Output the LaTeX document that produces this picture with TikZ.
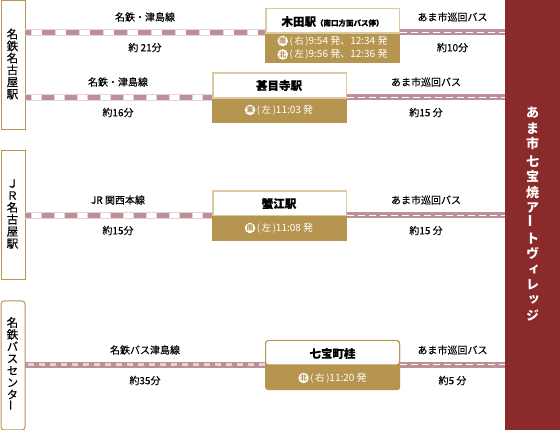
\documentclass[tikz,border=0pt]{standalone}
\usepackage{fontspec}
\setmainfont{Noto Sans CJK JP}
\newfontfamily\medfont[FakeBold=0.25]{Noto Sans CJK JP}
\newfontfamily\vertfont[RawFeature={+vert}]{Noto Sans CJK JP}
\newfontfamily\medvertfont[RawFeature={+vert},FakeBold=0.25]{Noto Sans CJK JP}
\definecolor{gold}{HTML}{B5954F}
\definecolor{palegold}{HTML}{DCC9A0}
\definecolor{wine}{HTML}{8A2A2B}
\definecolor{rosy}{HTML}{BD9097}
\definecolor{palerosy}{HTML}{E6D3D5}
\newcommand{\stationlabel}[1]{{\fontsize{11.5}{13}\selectfont\bfseries #1}}
\newcommand{\busmark}[1]{\tikz[baseline=-3.2pt]\node[circle,fill=white,inner sep=0pt,minimum size=10.5pt,text=gold,font=\fontsize{7}{7}\selectfont\bfseries]{#1};}
\newcommand{\paren}[1]{{\fontsize{9.5}{9}\selectfont\,(\,#1\,)}}

\begin{document}
\begin{tikzpicture}[x=1pt,y=-1pt,
    every node/.style={font=\fontsize{10}{11}\selectfont\medfont,inner sep=0pt},
    origin/.style={draw=gold,line width=1pt,fill=white,minimum width=24pt,text width=24pt,align=center},
    stack/.style={align=center,font=\fontsize{11.5}{12}\selectfont\medfont},
    departure/.style={text=white,font=\fontsize{10}{11}\selectfont},
    railbase/.style={palerosy,line width=6.5pt},
    darkA/.style={rosy,line width=5pt,dash pattern=on 13pt off 11pt,dash phase=7pt},
    whiteA/.style={white,line width=5pt,dash pattern=on 10pt off 14pt,dash phase=17pt},
    darkB/.style={rosy,line width=5pt,dash pattern=on 12pt off 11pt,dash phase=6pt},
    whiteB/.style={white,line width=5pt,dash pattern=on 9pt off 14pt,dash phase=16pt},
    busbase/.style={rosy,line width=6pt},
    busgap/.style={white,line width=1pt,dash pattern=on 7pt off 4pt},
    coachgap/.style={palerosy,line width=3pt,dash pattern=on 6pt off 5pt}]
  \useasboundingbox (0,0) rectangle (560,430);
  % destination
  \node[fill=wine,minimum width=55pt,minimum height=430pt,anchor=north west] (village) at (505,0) {};
  \node[text=white,align=center,font=\fontsize{13}{15.4}\selectfont\bfseries] (villagetext) at (532.5,214) {あ\\ま\\市\\[2.5pt]七\\宝\\焼\\{\vertfont\bfseries ア}\\{\rotatebox{90}{ー}}\\ト\\{\vertfont\bfseries ヴ}\\{\vertfont\bfseries ィ}\\{\vertfont\bfseries レ}\\{\vertfont\bfseries ッ}\\{\vertfont\bfseries ジ}};
  % origins
  \node[origin,minimum height=129pt,anchor=north west] (meitetsuA) at (0.5,0.5) {};
  \node[origin,minimum height=129pt,anchor=north west] (jr) at (0.5,150.5) {};
  \node[origin,rounded corners=3pt,minimum height=129pt,anchor=north west] (bus) at (0.5,300.5) {};
  \node[stack] (meitetsuAtext) at (12.5,64) {名\\鉄\\名\\古\\屋\\駅};
  \node[stack] (jrtext) at (12.5,214) {Ｊ\\Ｒ\\名\\古\\屋\\駅};
  \node[stack] (bustext) at (12.5,364) {名\\鉄\\{\medvertfont バ}\\{\medvertfont ス}\\{\medvertfont セ}\\{\medvertfont ン}\\{\medvertfont タ}\\{\rotatebox{90}{ー}}};
  % stations
  \node[fill=gold,minimum width=135pt,minimum height=55pt,anchor=north west] (kidabox) at (265,8) {};
  \node[fill=gold,minimum width=135pt,minimum height=50pt,anchor=north west] (jimokujibox) at (212,72.5) {};
  \node[fill=gold,minimum width=135pt,minimum height=50pt,anchor=north west] (kaniebox) at (212,190.5) {};
  \node[fill=gold,rounded corners=3pt,minimum width=135pt,minimum height=50pt,anchor=north west] (shippobox) at (265,340) {};
  % lines
  \coordinate (a1) at (25,32.3);
  \coordinate (b1) at (25,97.3);
  \coordinate (c1) at (25,215.3);
  \coordinate (d1) at (25,365);
  \coordinate (a2) at (400,32.3);
  \coordinate (b2) at (347,97.3);
  \coordinate (c2) at (347,215.3);
  \coordinate (d2) at (400,365);
  \coordinate (a3) at (505,32.3);
  \coordinate (b3) at (505,97.3);
  \coordinate (c3) at (505,215.3);
  \coordinate (d3) at (505,365);
  \coordinate (a4) at (265,32.3);
  \coordinate (b4) at (212,97.3);
  \coordinate (c4) at (212,215.3);
  \coordinate (d4) at (265,365);
  \draw[railbase] (a1) -- (a4);
  \draw[whiteA] (a1) -- (a4);
  \draw[darkA] (a1) -- (a4);
  \foreach \from/\to in {b1/b4,c1/c4}{
    \draw[railbase] (\from) -- (\to);
    \draw[whiteB] (\from) -- (\to);
    \draw[darkB] (\from) -- (\to);
  }
  \draw[busbase] (d1) -- (d4);
  \draw[coachgap,dash phase=-3pt] (d1) -- (d4);
  \foreach \from/\to in {a2/a3,b2/b3,c2/c3,d2/d3}{
    \draw[busbase] (\from) -- (\to);
    \draw[busgap] (\from) -- (\to);
  }
  % station heads
  \fill[white,draw=palegold,line width=1.5pt] (265.75,8.75) rectangle (399.25,33);
  \fill[white,draw=palegold,line width=1.5pt] (212.75,73.25) rectangle (346.25,98);
  \fill[white,draw=palegold,line width=1.5pt] (212.75,191.25) rectangle (346.25,215.5);
  \fill[white,draw=gold,line width=1pt,rounded corners=3pt] (265.5,340.5) -- (399.5,340.5) -- (399.5,365) -- (265.5,365) -- cycle;
  % station texts
  \node (kida) at (332.5,21.5) {\stationlabel{木田駅}{\fontsize{7.5}{8}\selectfont\bfseries（南口方面バス停）}};
  \node[departure] (kidaA) at (332.5,41) {\busmark{南}\paren{右}9:54 発、12:34 発};
  \node[departure] (kidaB) at (332.5,54.5) {\busmark{北}\paren{左}9:56 発、12:36 発};
  \node (jimokuji) at (279,85.5) {\stationlabel{甚目寺駅}};
  \node[departure] (jimokujiA) at (279,110) {\busmark{東}\paren{左}11:03 発};
  \node (kanie) at (279,203.5) {\stationlabel{蟹江駅}};
  \node[departure] (kanieA) at (279,228) {\busmark{南}\paren{左}11:08 発};
  \node (shippo) at (332.5,353.5) {\stationlabel{七宝町桂}};
  \node[departure] (shippoA) at (332.5,378) {\busmark{北}\paren{右}11:20 発};
  % line labels
  \node (lineA) at (145,17) {名鉄・津島線};
  \node (timeA) at (145,47.5) {約 21分};
  \node (lineB) at (118,82) {名鉄・津島線};
  \node (timeB) at (118,112.5) {約16分};
  \node (lineC) at (118,200) {JR 関西本線};
  \node (timeC) at (118,230.5) {約15分};
  \node (lineD) at (145,350) {名鉄バス津島線};
  \node (timeD) at (145,380.5) {約35分};
  \node (busA) at (452.5,17) {あま市巡回バス};
  \node (bustimeA) at (452.5,47.5) {約10分};
  \node (busB) at (426,82) {あま市巡回バス};
  \node (bustimeB) at (426,112.5) {約15 分};
  \node (busC) at (426,200) {あま市巡回バス};
  \node (bustimeC) at (426,230.5) {約15 分};
  \node (busD) at (452.5,350) {あま市巡回バス};
  \node (bustimeD) at (452.5,380.5) {約5 分};
\end{tikzpicture}
\end{document}
